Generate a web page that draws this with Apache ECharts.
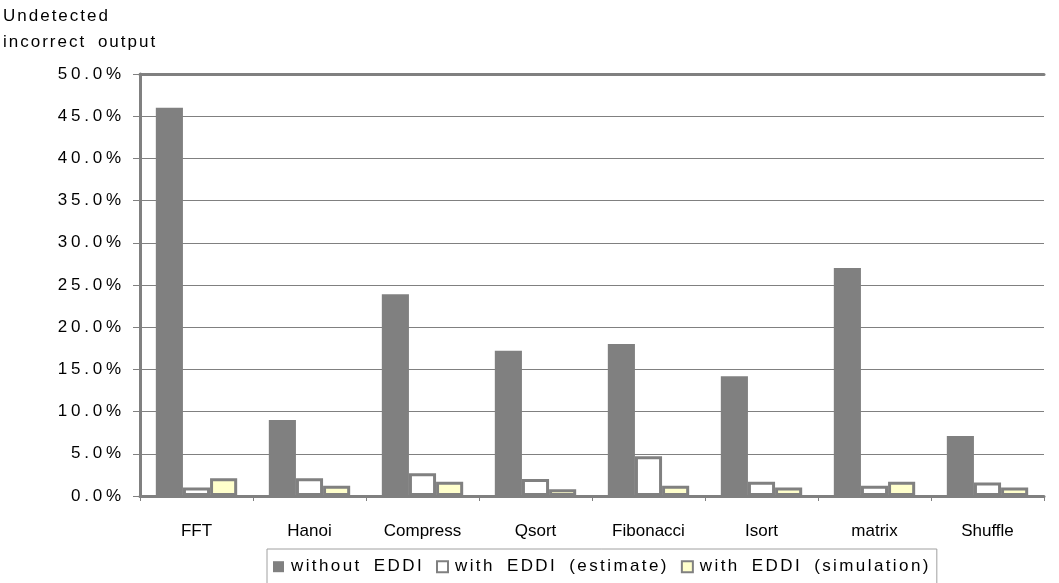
<!DOCTYPE html>
<html>
<head>
<meta charset="utf-8">
<script src="https://cdn.jsdelivr.net/npm/echarts@6/dist/echarts.min.js"></script>
<style>
  html, body { margin: 0; padding: 0; background: #fff; }
  #chart { width: 1059px; height: 583px; }
</style>
</head>
<body>
<div id="chart"></div>
<script>
// Benchmarks and undetected incorrect output rates (percent)
const categories = ['FFT', 'Hanoi', 'Compress', 'Qsort', 'Fibonacci', 'Isort', 'matrix', 'Shuffle'];
const withoutEddi = [46.0, 9.0, 23.9, 17.2, 18.0, 14.2, 27.0, 7.1];
const withEddiEstimate = [1.0, 2.1, 2.7, 2.0, 4.7, 1.7, 1.2, 1.6];
const withEddiSimulation = [2.1, 1.2, 1.7, 0.8, 1.2, 1.0, 1.7, 1.0];
const seriesNames = ['without EDDI', 'with EDDI (estimate)', 'with EDDI (simulation)'];
const yMin = 0, yMax = 50, yStep = 5;

const GRAY = '#808080';

// Font stacks per text group; each stack gets its own letter / word spacing below.
const TICK_FONT = '"Liberation Sans", Arial, sans-serif';
const LEGEND_FONT = '"Liberation Sans", Helvetica, sans-serif';
const TITLE_FONT = '"Liberation Sans", "Nimbus Sans", sans-serif';
const CAT_FONT = '"Liberation Sans", "Arimo", sans-serif';
const TRACKING = [
  [TICK_FONT, 3.8, 0],
  [LEGEND_FONT, 2.4, 5],
  [TITLE_FONT, 2.0, 5],
  [CAT_FONT, 2.3, 0]
];

// Wide letter tracking: applied both when text is measured and drawn,
// so ECharts lays the labels out with the spaced widths.
(function () {
  const proto = CanvasRenderingContext2D.prototype;
  if (!('letterSpacing' in proto)) return;
  const hasWord = 'wordSpacing' in proto;
  const spacingFor = font => {
    for (const [stack, ls, ws] of TRACKING) {
      if (font.endsWith(stack)) return [ls, ws];
    }
    return [0, 0];
  };
  const wrap = orig => function () {
    const [ls, ws] = spacingFor(this.font);
    this.letterSpacing = ls + 'px';
    if (hasWord) this.wordSpacing = ws + 'px';
    const r = orig.apply(this, arguments);
    this.letterSpacing = '0px';
    if (hasWord) this.wordSpacing = '0px';
    return r;
  };
  proto.fillText = wrap(proto.fillText);
  proto.strokeText = wrap(proto.strokeText);
  proto.measureText = wrap(proto.measureText);
})();

const chart = echarts.init(document.getElementById('chart'), null, { renderer: 'canvas' });

chart.setOption({
  animation: false,
  backgroundColor: '#ffffff',
  textStyle: { fontFamily: TICK_FONT, color: '#000' },
  title: {
    text: 'Undetected\nincorrect output',
    left: 3,
    top: 3,
    padding: 0,
    textStyle: { fontFamily: TITLE_FONT, fontSize: 17, fontWeight: 'normal', color: '#000', lineHeight: 26 }
  },
  grid: { left: 140, right: 15, top: 74, bottom: 87, containLabel: false },
  legend: {
    data: [
      { name: seriesNames[0], itemStyle: { borderWidth: 0 } },
      { name: seriesNames[1], itemStyle: { borderWidth: 2 } },
      { name: seriesNames[2], itemStyle: { borderWidth: 2 } }
    ],
    selectedMode: false,
    left: 267,
    top: 549,
    padding: [8, 6, 10, 6],
    itemWidth: 11,
    itemHeight: 11,
    itemGap: 12,
    borderColor: '#a0a0a0',
    borderWidth: 1,
    icon: 'rect',
    textStyle: { fontFamily: LEGEND_FONT, fontSize: 17, color: '#000', padding: [0, 0, 0, 2] }
  },
  xAxis: [
    {
      type: 'category',
      data: categories,
      position: 'bottom',
      axisLine: { show: true, lineStyle: { color: GRAY, width: 3 } },
      axisTick: { show: true, alignWithLabel: false, length: 5, inside: false, lineStyle: { color: GRAY, width: 1 } },
      axisLabel: { color: '#000', fontSize: 17, fontFamily: CAT_FONT, margin: 27 },
      splitLine: { show: false }
    },
    {
      // frame line along the top of the plot
      type: 'category',
      data: categories,
      position: 'top',
      axisLine: { show: true, lineStyle: { color: GRAY, width: 3 } },
      axisTick: { show: false },
      axisLabel: { show: false }
    }
  ],
  yAxis: {
    type: 'value',
    min: yMin,
    max: yMax,
    interval: yStep,
    axisLine: { show: true, lineStyle: { color: GRAY, width: 3 } },
    axisTick: { show: true, length: 7, lineStyle: { color: GRAY, width: 1 } },
    axisLabel: {
      color: '#000',
      fontSize: 17,
      fontFamily: TICK_FONT,
      margin: 15,
      padding: [8, 0, 0, 0],
      formatter: v => v.toFixed(1) + '%'
    },
    splitLine: { show: true, lineStyle: { color: GRAY, width: 1 } }
  },
  series: [
    {
      name: seriesNames[0],
      type: 'bar',
      data: withoutEddi,
      barGap: '0%',
      barCategoryGap: '28%',
      itemStyle: { color: GRAY, borderWidth: 0 }
    },
    {
      name: seriesNames[1],
      type: 'bar',
      data: withEddiEstimate,
      barGap: '0%',
      barCategoryGap: '28%',
      itemStyle: { color: '#ffffff', borderColor: GRAY, borderWidth: 3 }
    },
    {
      name: seriesNames[2],
      type: 'bar',
      data: withEddiSimulation,
      barGap: '0%',
      barCategoryGap: '28%',
      itemStyle: { color: '#ffffcc', borderColor: GRAY, borderWidth: 3 }
    }
  ]
});
</script>
</body>
</html>
